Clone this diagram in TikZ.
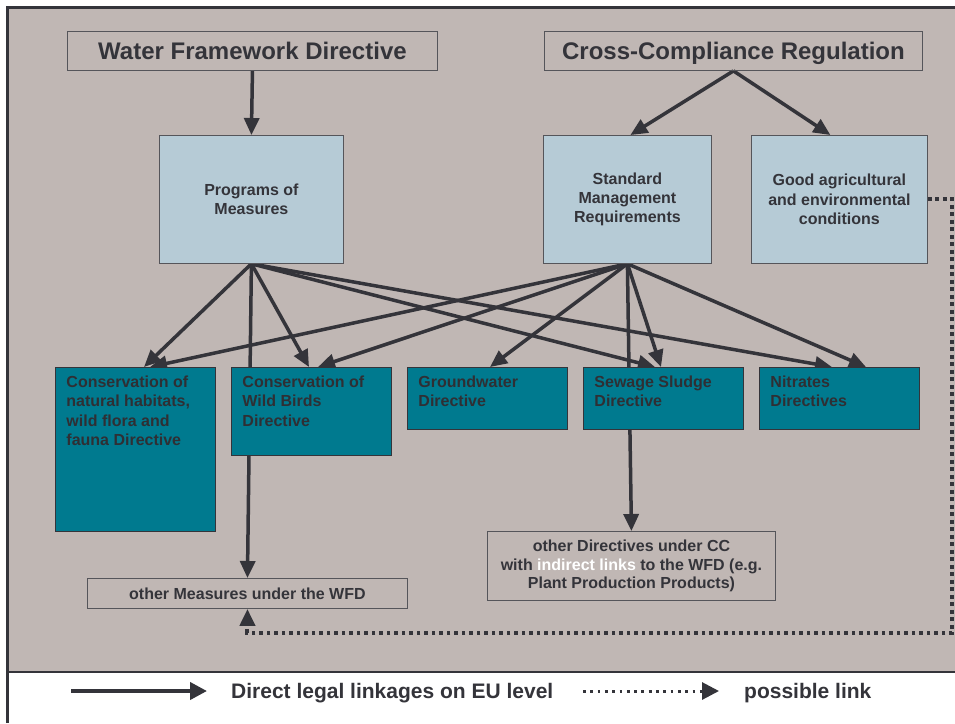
\documentclass[tikz,border=0pt]{standalone}
\usepackage{fontspec}
\setmainfont{Liberation Sans}
\usetikzlibrary{arrows.meta,calc}
\definecolor{bggray}{RGB}{192,183,180}
\definecolor{lblue}{RGB}{182,203,214}
\definecolor{tealc}{RGB}{0,122,143}
\definecolor{ink}{RGB}{52,52,58}
\definecolor{edgec}{RGB}{85,85,90}
\pgfdeclarelayer{bg}
\pgfdeclarelayer{edges}
\pgfsetlayers{bg,edges,main}
\newcommand{\tealtext}[3]{\parbox[t][#2][t]{#1}{\vspace*{8.5pt}\raggedright\leftskip=11pt\relax #3}}
\begin{document}
\begin{tikzpicture}[x=1pt,y=-1pt,
  title/.style={draw=edgec, line width=0.9pt, inner sep=0pt, anchor=north west,
    text height=21pt, text depth=4pt,
    font=\bfseries\fontsize{24}{28}\selectfont, text=ink},
  bluebox/.style={draw=edgec, fill=lblue, line width=0.8pt, anchor=north west, inner sep=0pt,
    align=center, font=\bfseries\fontsize{16}{19.4}\selectfont, text=ink},
  tealbox/.style={draw=ink, fill=tealc, line width=0.9pt, anchor=north west, inner sep=0pt,
    font=\bfseries\fontsize{16}{19.4}\selectfont, text=ink!90!black},
  notebox/.style={draw=edgec, line width=0.9pt, anchor=north west, inner sep=0pt,
    align=center, font=\bfseries\fontsize{16}{18.5}\selectfont, text=ink},
  legendtext/.style={anchor=base west, inner sep=0pt, font=\bfseries\fontsize{21}{25}\selectfont, text=ink},
  link/.style={draw=ink, line width=3.5pt, -{Triangle[length=17pt,width=15pt]}},
  dots/.style={draw=ink, line width=4pt, dash pattern=on 3.8pt off 3.7pt}
]
\useasboundingbox (0,0) rectangle (955,723);
\begin{pgfonlayer}{bg}
  \fill[white] (0,0) rectangle (955,723);
  \fill[bggray] (7.5,7.5) rectangle (955,672);
  \draw[ink, line width=1.3pt] (7.5,672) -- (955,672);
  \draw[ink, line width=2.5pt] (7.5,723) -- (7.5,7.5) -- (955,7.5);
\end{pgfonlayer}

% top level
\node[title, minimum width=370pt, minimum height=39pt] (wfd) at (67,31) {Water Framework Directive};
\node[title, minimum width=378pt, minimum height=39pt] (ccr) at (544,31) {Cross-Compliance Regulation};

% second level
\node[bluebox, minimum width=184pt, minimum height=128pt] (pom) at (159,135) {Programs of\\Measures};
\node[bluebox, minimum width=168pt, minimum height=128pt] (smr) at (543,135) {Standard\\Management\\Requirements};
\node[bluebox, minimum width=176pt, minimum height=128pt] (gaec) at (751,135) {Good agricultural\\and environmental\\conditions};

% directives
\node[tealbox] (hab) at (55,367) {\tealtext{160pt}{164pt}{Conservation of\\natural habitats,\\wild flora and\\fauna Directive}};
\node[tealbox] (birds) at (231,367) {\tealtext{160pt}{88pt}{Conservation of\\Wild Birds\\Directive}};
\node[tealbox] (gw) at (407,367) {\tealtext{160pt}{62pt}{Groundwater\\Directive}};
\node[tealbox] (sew) at (583,367) {\tealtext{160pt}{62pt}{Sewage Sludge\\Directive}};
\node[tealbox] (nit) at (759,367) {\tealtext{160pt}{62pt}{Nitrates\\Directives}};

% other
\node[notebox, minimum width=320pt, minimum height=30pt] (othm) at (87,578) {other Measures under the WFD};
\node[notebox, minimum width=288pt, minimum height=69pt] (othd) at (487,531) {other Directives under CC\\with {\color{white}indirect links} to the WFD (e.g.\\Plant Production Products)};

\begin{pgfonlayer}{edges}
  \draw[link] (wfd.south) -- (pom.north);
  \draw[link] (ccr.south) -- ($(smr.north)+(3,0)$);
  \draw[link] (ccr.south) -- ($(gaec.north)+(-9,0)$);
  % from Programs of Measures
  \draw[link] (pom.south) -- ($(hab.north west)+(89,0)$);
  \draw[link] (pom.south) -- ($(birds.north west)+(78,0)$);
  \draw[link] (pom.south) -- ($(sew.north west)+(72,0)$);
  \draw[link] (pom.south) -- ($(nit.north west)+(73,0)$);
  \draw[link] (pom.south) -- (othm.north);
  % from Standard Management Requirements
  \draw[link] (smr.south) -- ($(hab.north west)+(95,0)$);
  \draw[link] (smr.south) -- ($(birds.north west)+(87,0)$);
  \draw[link] (smr.south) -- ($(gw.north west)+(83,0)$);
  \draw[link] (smr.south) -- ($(sew.north west)+(78,0)$);
  \draw[link] (smr.south) -- ($(nit.north west)+(107,0)$);
  \draw[link] (smr.south) -- (othd.north);
  % possible link
  \draw[dots, -{Triangle[length=17pt,width=15pt]}] (gaec.east) -- ++(24.5,0) -- ++(0,433.5) -| (othm.south);
\end{pgfonlayer}

% legend
\coordinate (l1a) at (71,691);
\coordinate (l1b) at (207,691);
\draw[link, line width=4pt, -{Triangle[length=17pt,width=17pt]}] (l1a) -- (l1b);
\node[legendtext] (l1t) at (231,698) {Direct legal linkages on EU level};
\coordinate (l2a) at (583,691);
\coordinate (l2b) at (719,691);
\draw[dots, line width=3pt, dash pattern=on 2.8pt off 4.5pt, -{Triangle[length=17pt,width=17pt]}] (l2a) -- (l2b);
\node[legendtext] (l2t) at (744,698) {possible link};
\end{tikzpicture}
\end{document}
